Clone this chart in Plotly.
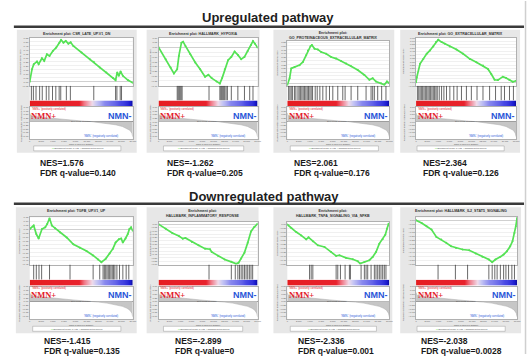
import plotly.graph_objects as go

W, H = 531, 356

# ---------------- data ----------------
rank_ticks = [0, 2000, 4000, 6000, 8000, 10000, 12000, 14000, 16000, 18000]
rank_tick_labels = ["0", "2,000", "4,000", "6,000", "8,000", "10,000", "12,000", "14,000", "16,000", "18,000"]

metric_rank = [0, 150, 600, 2000, 4000, 6000, 8000, 9500, 10800, 12000, 13500, 15000, 16200, 17000, 17500, 17850, 18000]
metric_value = [0.6, 0.42, 0.36, 0.30, 0.22, 0.15, 0.08, 0.03, 0.0, -0.05, -0.12, -0.22, -0.34, -0.47, -0.6, -0.8, -1.05]
zero_cross_rank = 10800

pathway_names = ["CSR_LATE_UP.V1_DN", "HALLMARK_HYPOXIA", "GO_PROTEINACEOUS_EXTRACELLULAR_MATRIX",
                 "GO_EXTRACELLULAR_MATRIX", "TGFB_UP.V1_UP", "HALLMARK_INFLAMMATORY_RESPONSE",
                 "HALLMARK_TNFA_SIGNALING_VIA_NFKB", "HALLMARK_IL2_STAT5_SIGNALING"]
nes_values = ["1.576", "-1.262", "2.061", "2.364", "-1.415", "-2.899", "-2.336", "-2.038"]
fdr_values = ["0.140", "0.205", "0.176", "0.126", "0.135", "0", "0.001", "0.0028"]
row_titles = ["Upregulated pathway", "Downregulated pathway"]
pos_label = "NMN+"
neg_label = "NMN-"

es1_rank = [0, 400, 700, 1270, 1560, 2130, 2540, 3000, 3460, 4040, 4620, 5190, 5480, 5890, 6290, 6750, 7150, 7620, 9060, 10500, 11190, 12230, 13390, 14540, 15000, 15290, 15580, 15870, 16270, 17140, 18000]
es1_score = [0.0, 0.157, 0.219, 0.252, 0.219, 0.293, 0.26, 0.343, 0.322, 0.384, 0.426, 0.488, 0.521, 0.488, 0.509, 0.475, 0.492, 0.447, 0.364, 0.281, 0.248, 0.177, 0.115, 0.045, 0.02, 0.115, 0.074, 0.128, 0.074, 0.02, -0.013]
hits1 = [290, 640, 1100, 1730, 2190, 2890, 3350, 3980, 4560, 5140, 5420, 6400, 7100, 11190, 15000, 15230, 15810, 16040]

es2_rank = [0, 1310, 2200, 2800, 3400, 3700, 4170, 4470, 4890, 5780, 6680, 7570, 8460, 9060, 9660, 10550, 11150, 11560, 12040, 12640, 13230, 13830, 14420, 15020, 15620, 16210, 16810, 17170, 17520, 18000]
es2_score = [0.0, -0.124, -0.21, -0.273, -0.228, -0.09, 0.048, 0.059, 0.014, -0.072, -0.159, -0.228, -0.307, -0.286, -0.321, -0.355, -0.376, -0.321, -0.228, -0.135, -0.10, -0.045, -0.079, -0.124, -0.10, -0.038, 0.024, 0.065, 0.038, -0.003]
hits2 = [3400, 3580, 3760, 3930, 4110, 4290, 9180, 11150, 11330, 11500, 11680, 11860, 12040, 12280, 12520, 13230, 14420, 15620, 16570, 17170]

es3_rank = [0, 410, 700, 1290, 2170, 2760, 3340, 3640, 4100, 4340, 4810, 5390, 5980, 6860, 7740, 8620, 9500, 10380, 11260, 12430, 13600, 14480, 15070, 15650, 16530, 17120, 17590, 18000]
es3_score = [-0.02, 0.07, 0.20, 0.22, 0.244, 0.287, 0.374, 0.44, 0.496, 0.513, 0.461, 0.453, 0.418, 0.396, 0.353, 0.331, 0.30, 0.265, 0.23, 0.178, 0.113, 0.048, 0.07, 0.026, 0.004, -0.017, 0.026, 0.004]
hits3 = [240, 470, 700, 940, 1290, 1520, 1880, 2110, 2350, 2580, 2810, 3050, 3280, 3520, 3750, 3990, 4220, 4460, 4930, 5280, 5750, 6270, 6860, 7450, 8030, 8910, 9790, 10200, 11260, 12430, 13900, 14780, 15070, 15360, 15950, 16650, 17410]

es4_rank = [0, 120, 720, 1310, 1910, 2500, 3100, 3580, 3990, 4590, 5190, 6080, 7270, 8460, 9660, 10850, 12040, 12930, 13530, 14130, 14720, 15620, 16210, 16810, 17400, 18000]
es4_score = [0.0, 0.07, 0.27, 0.34, 0.415, 0.464, 0.523, 0.586, 0.62, 0.586, 0.562, 0.523, 0.478, 0.415, 0.341, 0.292, 0.243, 0.194, 0.121, 0.037, 0.032, 0.082, 0.062, 0.032, 0.008, 0.023]
hits4 = [240, 480, 720, 950, 1190, 1430, 1670, 1910, 2150, 2380, 2620, 2860, 3100, 3340, 3580, 3810, 4170, 4590, 5010, 5480, 6080, 6790, 7390, 8170, 9060, 9950, 10970, 12040, 13230, 14300, 15320, 15910, 16810, 17520]

es5_rank = [0, 690, 1150, 1560, 2140, 2710, 3060, 3460, 3870, 4440, 5310, 6460, 7620, 8770, 9920, 11080, 11940, 12520, 13270, 13960, 14540, 15000, 15580, 15980, 16270, 16730, 17130, 17420, 17710, 18000]
es5_score = [0.0, 0.043, -0.064, -0.12, 0.0, 0.021, 0.064, 0.137, 0.043, 0.008, -0.043, -0.107, -0.193, -0.236, -0.279, -0.335, -0.386, -0.42, -0.378, -0.309, -0.249, -0.172, -0.129, -0.12, -0.172, -0.12, -0.064, 0.0, 0.021, -0.022]
hits5 = [690, 1150, 1620, 2080, 3460, 7040, 11080, 12230, 12810, 13040, 13270, 13500, 13730, 13960, 14190, 14420, 14650, 14880, 15230, 15690, 16270, 16850, 17310]

es6_rank = [0, 1310, 2500, 3700, 4410, 4890, 6080, 7270, 8460, 9360, 9660, 10850, 12040, 13230, 14130, 14540, 15020, 15620, 16210, 16810, 17400, 18000]
es6_score = [0.0, -0.068, -0.132, -0.177, -0.216, -0.206, -0.265, -0.314, -0.364, -0.373, -0.413, -0.472, -0.526, -0.56, -0.59, -0.575, -0.511, -0.423, -0.275, -0.108, -0.044, 0.005]
hits6 = [9180, 13230, 13950, 14420, 14720, 15020, 15320, 15620, 15910, 16210, 16510, 16810, 17110]

es7_rank = [0, 700, 1580, 2460, 3340, 3750, 4510, 5390, 6570, 7740, 8620, 9210, 10380, 11550, 12430, 12840, 13600, 14480, 15070, 15650, 16240, 16830, 17300, 17590, 17880, 18000]
es7_score = [0.0, -0.045, -0.094, -0.136, -0.185, -0.16, -0.21, -0.26, -0.28, -0.343, -0.392, -0.384, -0.417, -0.434, -0.459, -0.488, -0.467, -0.446, -0.405, -0.343, -0.239, -0.185, -0.127, -0.053, 0.009, -0.011]
hits7 = [3930, 4220, 4510, 8620, 8910, 9380, 10200, 10960, 11140, 13020, 13600, 13900, 14190, 14780, 15360, 15650, 15950, 16240, 16530, 16830, 17120, 17410]

es8_rank = [0, 990, 1870, 2750, 3620, 4500, 5380, 6250, 7130, 8300, 9470, 10640, 11810, 12970, 13560, 14140, 15020, 15600, 16190, 16770, 17180, 17530, 17770, 18000]
es8_score = [0.0, -0.032, -0.074, -0.115, -0.206, -0.239, -0.28, -0.322, -0.343, -0.363, -0.372, -0.413, -0.454, -0.488, -0.521, -0.488, -0.454, -0.425, -0.384, -0.322, -0.26, -0.156, -0.074, 0.03]
hits8 = [3920, 7010, 9180, 12970, 13560, 14030, 14440, 15020, 15600, 16010, 16480, 17070, 17530]

es_ranks = [es1_rank, es2_rank, es3_rank, es4_rank, es5_rank, es6_rank, es7_rank, es8_rank]
es_scores = [es1_score, es2_score, es3_score, es4_score, es5_score, es6_score, es7_score, es8_score]
hit_lists = [hits1, hits2, hits3, hits4, hits5, hits6, hits7, hits8]

# ---------------- styling / layout geometry ----------------
es_ranges = [[-0.05, 0.55], [-0.40, 0.10], [-0.03, 0.57], [-0.05, 0.65],
             [-0.45, 0.15], [-0.60, 0.03], [-0.50, 0.03], [-0.55, 0.04]]
boxes = [(16, 137), (147, 261), (275, 397), (403, 524), (15, 137), (147, 260), (275, 395), (403, 525)]
inner = [(29, 133), (159, 259), (289, 392), (419, 520), (29, 133), (159, 259), (289, 392), (419, 521)]
rows_y = [(29, 153), (208, 335)]
es_top_off = [8, 8, 11, 8, 10, 15, 15, 10]
two_line = [False, False, True, False, False, True, True, False]
nes_x = [38, 167, 295, 425, 42, 175, 299, 423]
nes_y = [163, 343]
fdr_y = [173, 352.5]

FONT = "Liberation Sans, Arial, sans-serif"
GREEN = "#55e255"
RED = "#e3202a"
BLUE = "#2a55d8"

grad_scale = [[0.0, "#000070"], [0.273, "#1c1cd0"], [0.455, "#4848e4"], [0.576, "#8888ee"],
              [0.618, "#c8c8f4"], [0.636, "#f0dceb"], [0.655, "#f07482"], [0.673, "#e8222c"], [1.0, "#e41a1c"]]


def fx(v):
    return v / W


def fy(v):
    return 1 - v / H


fig = go.Figure()
layout = {}
shapes = []
annotations = []
counter = [0]


def new_axes(xpx, ypx, yrange):
    counter[0] += 1
    n = counter[0]
    s = "" if n == 1 else str(n)
    layout["xaxis" + s] = dict(domain=[fx(xpx[0]), fx(xpx[1])], range=[rank_ticks[0], rank_ticks[-1]],
                               anchor="y" + s, visible=False, fixedrange=True, showgrid=False, zeroline=False)
    layout["yaxis" + s] = dict(domain=[fy(ypx[1]), fy(ypx[0])], range=yrange,
                               anchor="x" + s, visible=False, fixedrange=True, showgrid=False, zeroline=False)
    return s


def ann(x, y, text, size, color="#222", bold=False, xanchor="center", family=FONT, angle=0):
    if bold:
        text = "<b>" + text + "</b>"
    annotations.append(dict(x=fx(x), y=fy(y), xref="paper", yref="paper", text=text, showarrow=False,
                            xanchor=xanchor, yanchor="middle", textangle=angle,
                            font=dict(size=size, color=color, family=family), borderpad=0))


def rect(x0, y0, x1, y1, fill, line=None, lw=0):
    shapes.append(dict(type="rect", xref="paper", yref="paper", x0=fx(x0), x1=fx(x1), y0=fy(y1), y1=fy(y0),
                       fillcolor=fill, line=dict(color=line or fill, width=lw), layer="below"))


for i in range(8):
    r = i // 4
    by0, by1 = rows_y[r]
    h = by1 - by0
    bx0, bx1 = boxes[i]
    ix0, ix1 = inner[i]
    es_top = by0 + es_top_off[i]
    es_bot = by0 + 0.455 * h
    hit_bot = by0 + 0.575 * h
    grad_bot = by0 + 0.622 * h
    met_top = by0 + 0.63 * h
    met_bot = by0 + 0.888 * h

    rect(bx0, by0, bx1, by1, "#e7e7e7")
    rect(ix0, es_top, ix1, met_bot, "#ffffff")

    # ES plot
    s = new_axes((ix0, ix1), (es_top, es_bot), es_ranges[i])
    layout["xaxis" + s].update(visible=True, showticklabels=False, ticks="", showline=True, mirror=True,
                               linecolor="#b0b0b0", linewidth=0.5)
    layout["yaxis" + s].update(visible=True, showticklabels=True, tickfont=dict(size=2.5, color="#666"),
                               ticks="", dtick=0.05, tickformat=".2f", showgrid=True, gridcolor="#f0f0f0",
                               gridwidth=0.5, showline=True, mirror=True, linecolor="#b0b0b0", linewidth=0.5,
                               zeroline=True, zerolinecolor="#d0d0d0", zerolinewidth=0.5)
    fig.add_trace(go.Scatter(x=es_ranks[i], y=es_scores[i], mode="lines+markers",
                             line=dict(color=GREEN, width=1.7), marker=dict(size=2, color=GREEN),
                             xaxis="x" + s, yaxis="y" + s, hoverinfo="skip"))

    # hits
    s = new_axes((ix0, ix1), (es_bot, hit_bot), [0, 1])
    hx, hy = [], []
    for v in hit_lists[i]:
        hx += [v, v, None]
        hy += [0, 1, None]
    fig.add_trace(go.Scatter(x=hx, y=hy, mode="lines", line=dict(color="#2a2a2a", width=0.7),
                             xaxis="x" + s, yaxis="y" + s, hoverinfo="skip"))

    # gradient bar coloured by the ranked metric
    s = new_axes((ix0, ix1), (hit_bot, grad_bot), [0, 1])
    fig.add_trace(go.Heatmap(x=metric_rank, y=[0, 1], z=[metric_value, metric_value], zsmooth="best",
                             colorscale=grad_scale, zmin=min(metric_value), zmax=max(metric_value),
                             showscale=False, xaxis="x" + s, yaxis="y" + s, hoverinfo="skip"))

    # ranked list metric
    s = new_axes((ix0, ix1), (met_top, met_bot), [-1.2, 1.0])
    layout["xaxis" + s].update(visible=True, showticklabels=True, tickvals=rank_ticks, ticktext=rank_tick_labels,
                               tickfont=dict(size=2.2, color="#555"), ticks="", ticklen=0,
                               showline=True, mirror=True, linecolor="#b0b0b0", linewidth=0.5)
    layout["yaxis" + s].update(visible=True, showticklabels=True, tickfont=dict(size=2.5, color="#666"),
                               ticks="", dtick=0.25, tickformat=".2f", showline=True, mirror=True,
                               linecolor="#b0b0b0", linewidth=0.5, zeroline=True, zerolinecolor="#909090",
                               zerolinewidth=0.5)
    fig.add_trace(go.Scatter(x=metric_rank, y=metric_value, mode="lines", fill="tozeroy",
                             fillcolor="#c6c6c6", line=dict(color="#aaaaaa", width=0.5),
                             xaxis="x" + s, yaxis="y" + s, hoverinfo="skip"))

    # texts
    cx = (bx0 + bx1) / 2
    if two_line[i]:
        ann(cx, by0 + 6, "Enrichment plot:<br>" + pathway_names[i], 3.6, "#333", bold=True)
    else:
        ann(cx, by0 + 4, "Enrichment plot: " + pathway_names[i], 3.6, "#333", bold=True)
    ann(bx0 + 4, (es_top + es_bot) / 2, "Enrichment score (ES)", 2.5, "#555", angle=-90)
    ann(bx0 + 4, (met_top + met_bot) / 2, "Ranked list metric (Signal2Noise)", 2.5, "#555", angle=-90)
    ann((ix0 + ix1) / 2, by0 + 0.932 * h, "Rank in Ordered Dataset", 2.2, "#555")
    ann(ix0 + 1, met_top + 1.5, "'" + pos_label + "' (positively correlated)", 2.6, RED, xanchor="left")
    ann(ix0 + 0.52 * (ix1 - ix0), met_bot - 3, "'" + neg_label + "' (negatively correlated)", 2.6, BLUE,
        xanchor="left")
    ann(ix0 + (ix1 - ix0) * zero_cross_rank / rank_ticks[-1], by0 + 0.745 * h,
        "Zero cross at " + str(zero_cross_rank), 2.2, "#555", xanchor="right")
    ann(ix0 + 0.5, by0 + 0.70 * h, pos_label, 8.5, RED, bold=True, xanchor="left",
        family="Liberation Serif, Times New Roman, serif")
    ann(ix1, by0 + 0.70 * h, neg_label, 9, BLUE, bold=True, xanchor="right")

    # legend box
    lx0, lx1 = bx0 + 17, bx1 - 16
    ly0, ly1 = by0 + 0.945 * h, by0 + 0.985 * h
    rect(lx0, ly0, lx1, ly1, "#ffffff", "#9a9a9a", 0.5)
    ann((lx0 + lx1) / 2, (ly0 + ly1) / 2,
        '<span style="color:%s">━━</span> Enrichment profile  <span style="color:#222">━</span> Hits  '
        '<span style="color:#aaa">━</span> Ranking metric scores' % GREEN, 2.2, "#444")

    # NES / FDR
    ann(nes_x[i], nes_y[r], "NES=" + nes_values[i], 8.5, "#1a1a1a", bold=True, xanchor="left")
    ann(nes_x[i], fdr_y[r], "FDR q-value=" + fdr_values[i], 8.5, "#1a1a1a", bold=True, xanchor="left")

# row headers and separators
ann(270, 17, row_titles[0], 13, "#1e1e1e", bold=True)
ann(265, 197, row_titles[1], 13, "#1e1e1e", bold=True)
for yy in (26, 204.5):
    shapes.append(dict(type="line", xref="paper", yref="paper", x0=fx(13), x1=fx(528), y0=fy(yy), y1=fy(yy),
                       line=dict(color="#3a3a3a", width=2.5), layer="above"))
shapes.append(dict(type="line", xref="paper", yref="paper", x0=fx(529.5), x1=fx(529.5), y0=0, y1=1,
                   line=dict(color="#cfcfcf", width=1.5), layer="above"))

fig.update_layout(width=W, height=H, margin=dict(l=0, r=0, t=0, b=0), showlegend=False,
                  paper_bgcolor="#ffffff", plot_bgcolor="rgba(0,0,0,0)",
                  font=dict(family=FONT), shapes=shapes, annotations=annotations, **layout)

fig.write_html("out.html", config={"displayModeBar": False},
               post_script="document.body.style.margin='0';document.body.style.overflow='hidden';")
